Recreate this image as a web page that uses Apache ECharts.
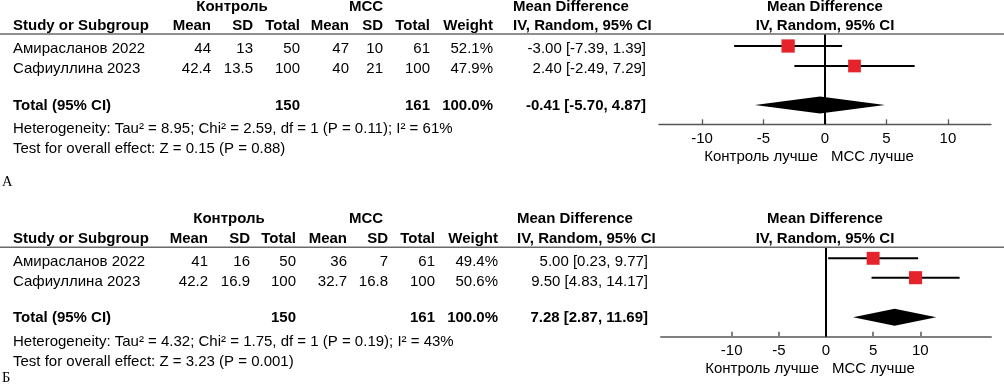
<!DOCTYPE html>
<html>
<head>
<meta charset="utf-8">
<script src="https://cdn.jsdelivr.net/npm/echarts@6/dist/echarts.min.js"></script>
<style>
html,body{margin:0;padding:0;background:#fff;}
#chart{width:1004px;height:392px;}
</style>
</head>
<body>
<div id="chart"></div>
<script>
// ---------------- DATA ----------------
const studies = ['Амирасланов 2022', 'Сафиуллина 2023'];
const groupNames = ['Контроль', 'МСС'];
const tickValues = [-10, -5, 0, 5, 10];
const favourLabels = ['Контроль лучше', 'МСС лучше'];

// Panel А
const aCtrlMean = [44, 42.4];
const aCtrlSD = [13, 13.5];
const aCtrlN = [50, 100];
const aMscMean = [47, 40];
const aMscSD = [10, 21];
const aMscN = [61, 100];
const aWeight = [52.1, 47.9];
const aMD = [-3.00, 2.40];
const aLo = [-7.39, -2.49];
const aHi = [1.39, 7.29];
const aTotal = [-0.41, -5.70, 4.87];
const aTotalN = [150, 161];
const aHet = 'Heterogeneity: Tau² = 8.95; Chi² = 2.59, df = 1 (P = 0.11); I² = 61%';
const aTest = 'Test for overall effect: Z = 0.15 (P = 0.88)';

// Panel Б
const bCtrlMean = [41, 42.2];
const bCtrlSD = [16, 16.9];
const bCtrlN = [50, 100];
const bMscMean = [36, 32.7];
const bMscSD = [7, 16.8];
const bMscN = [61, 100];
const bWeight = [49.4, 50.6];
const bMD = [5.00, 9.50];
const bLo = [0.23, 4.83];
const bHi = [9.77, 14.17];
const bTotal = [7.28, 2.87, 11.69];
const bTotalN = [150, 161];
const bHet = 'Heterogeneity: Tau² = 4.32; Chi² = 1.75, df = 1 (P = 0.19); I² = 43%';
const bTest = 'Test for overall effect: Z = 3.23 (P = 0.001)';

// ---------------- LAYOUT / STYLE ----------------
const FONT = '"Liberation Sans", Arial, sans-serif';
const SERIF = '"Liberation Serif", "Times New Roman", serif';
const RED = '#e4232b';
const FS = 15;

const panels = [
  {
    letter: 'А',
    d: {cm: aCtrlMean, cs: aCtrlSD, cn: aCtrlN, mm: aMscMean, ms: aMscSD, mn: aMscN,
        w: aWeight, md: aMD, lo: aLo, hi: aHi, tot: aTotal, totN: aTotalN, het: aHet, test: aTest},
    lay: {top: 34, axisY: 124.3, xl: 659, xr: 991, xmin: -13.5, xmax: 13.5,
          rowU: [0.6, 1.6], diaU: 3.55, ymax: 4.515,
          h1: 6.5, h2: 26, rows: [49, 69], tot: 106, het: 128.5, test: 148.5, fav: 157, let: 182,
          cols: {study: 13, cm: 211, cs: 253, cn: 300, mm: 349, ms: 383, mn: 430, w: 493, mdH: 513, md: 646, ctrlH: 232, mscH: 366},
          favR: 818, favL: 831, axisW: 1.3, axisC: '#555', labelMargin: 7}
  },
  {
    letter: 'Б',
    d: {cm: bCtrlMean, cs: bCtrlSD, cn: bCtrlN, mm: bMscMean, ms: bMscSD, mn: bMscN,
        w: bWeight, md: bMD, lo: bLo, hi: bHi, tot: bTotal, totN: bTotalN, het: bHet, test: bTest},
    lay: {top: 247.3, axisY: 336.7, xl: 661, xr: 991, xmin: -17.5, xmax: 17.5,
          rowU: [0.55, 1.52], diaU: 3.5, ymax: 4.47,
          h1: 219, h2: 238.5, rows: [261.5, 281.5], tot: 318, het: 342, test: 361.5, fav: 368.5, let: 378,
          cols: {study: 13, cm: 208, cs: 250, cn: 296, mm: 347, ms: 388, mn: 435, w: 498, mdH: 517, md: 648, ctrlH: 229, mscH: 366},
          favR: 819, favL: 832, axisW: 2, axisC: '#808080', labelMargin: 6.5}
  }
];

function T(text, x, y, align, bold, size, family) {
  return {
    type: 'text', x: x, y: y, silent: true, z: 10,
    style: {
      text: String(text), fill: '#000',
      fontSize: size || FS, fontWeight: bold ? 'bold' : 'normal',
      fontFamily: family || FONT,
      align: align || 'left', verticalAlign: 'middle'
    }
  };
}

const graphics = [];
const grids = [], xAxes = [], yAxes = [], series = [];
const PLOT_CX = 825;

panels.forEach((p, gi) => {
  const L = p.lay, C = L.cols, d = p.d;
  // header rows
  graphics.push(T(groupNames[0], C.ctrlH, L.h1, 'center', true));
  graphics.push(T(groupNames[1], C.mscH, L.h1, 'center', true));
  graphics.push(T('Mean Difference', C.mdH, L.h1, 'left', true));
  graphics.push(T('Mean Difference', PLOT_CX, L.h1, 'center', true));
  graphics.push(T('Study or Subgroup', C.study, L.h2, 'left', true));
  graphics.push(T('Mean', C.cm, L.h2, 'right', true));
  graphics.push(T('SD', C.cs, L.h2, 'right', true));
  graphics.push(T('Total', C.cn, L.h2, 'right', true));
  graphics.push(T('Mean', C.mm, L.h2, 'right', true));
  graphics.push(T('SD', C.ms, L.h2, 'right', true));
  graphics.push(T('Total', C.mn, L.h2, 'right', true));
  graphics.push(T('Weight', C.w, L.h2, 'right', true));
  graphics.push(T('IV, Random, 95% CI', C.mdH, L.h2, 'left', true));
  graphics.push(T('IV, Random, 95% CI', PLOT_CX, L.h2, 'center', true));
  // header rule
  graphics.push({type: 'line', silent: true, z: 5,
    shape: {x1: 0, y1: L.top, x2: 1004, y2: L.top},
    style: {stroke: '#6a6a6a', lineWidth: 1.6}});
  // study rows
  studies.forEach((s, i) => {
    const y = L.rows[i];
    graphics.push(T(s, C.study, y, 'left'));
    graphics.push(T(d.cm[i], C.cm, y, 'right'));
    graphics.push(T(d.cs[i], C.cs, y, 'right'));
    graphics.push(T(d.cn[i], C.cn, y, 'right'));
    graphics.push(T(d.mm[i], C.mm, y, 'right'));
    graphics.push(T(d.ms[i], C.ms, y, 'right'));
    graphics.push(T(d.mn[i], C.mn, y, 'right'));
    graphics.push(T(d.w[i].toFixed(1) + '%', C.w, y, 'right'));
    graphics.push(T(d.md[i].toFixed(2) + ' [' + d.lo[i].toFixed(2) + ', ' + d.hi[i].toFixed(2) + ']', C.md, y, 'right'));
  });
  // total row
  const wsum = d.w.reduce((a, b) => a + b, 0);
  graphics.push(T('Total (95% CI)', C.study, L.tot, 'left', true));
  graphics.push(T(d.totN[0], C.cn, L.tot, 'right', true));
  graphics.push(T(d.totN[1], C.mn, L.tot, 'right', true));
  graphics.push(T(wsum.toFixed(1) + '%', C.w, L.tot, 'right', true));
  graphics.push(T(d.tot[0].toFixed(2) + ' [' + d.tot[1].toFixed(2) + ', ' + d.tot[2].toFixed(2) + ']', C.md, L.tot, 'right', true));
  graphics.push(T(d.het, C.study, L.het, 'left'));
  graphics.push(T(d.test, C.study, L.test, 'left'));
  graphics.push(T(favourLabels[0], L.favR, L.fav, 'right'));
  graphics.push(T(favourLabels[1], L.favL, L.fav, 'left'));
  graphics.push(T(p.letter, 2, L.let, 'left', false, 14.5, SERIF));

  // plot grid
  grids.push({left: L.xl, right: 1004 - L.xr, top: L.top, height: L.axisY - L.top,
    containLabel: false, outerBoundsMode: 'none', show: false});
  xAxes.push({
    type: 'value', gridIndex: gi, min: L.xmin, max: L.xmax, position: 'bottom',
    splitLine: {show: false},
    axisLine: {show: true, onZero: false, lineStyle: {color: L.axisC, width: L.axisW}},
    axisTick: {show: true, inside: true, length: 5, customValues: tickValues,
      lineStyle: {color: L.axisC, width: L.axisW}},
    axisLabel: {show: true, customValues: tickValues, color: '#000', fontSize: FS,
      fontFamily: FONT, margin: L.labelMargin, formatter: v => String(v)}
  });
  yAxes.push({type: 'value', gridIndex: gi, min: 0, max: L.ymax, inverse: true, show: false});

  // zero line
  series.push({
    type: 'custom', xAxisIndex: gi, yAxisIndex: gi, z: 2, clip: false, silent: true,
    data: [[0, 0, L.ymax]],
    renderItem: (params, api) => {
      const a = api.coord([api.value(0), api.value(1)]);
      const b = api.coord([api.value(0), api.value(2)]);
      return {type: 'line', shape: {x1: a[0], y1: a[1], x2: b[0], y2: b[1]},
        style: {stroke: '#000', lineWidth: 2}};
    }
  });
  // studies
  series.push({
    type: 'custom', xAxisIndex: gi, yAxisIndex: gi, z: 3, clip: false, silent: true,
    data: d.md.map((m, i) => [m, d.lo[i], d.hi[i], L.rowU[i], d.w[i]]),
    renderItem: (params, api) => {
      const y = api.value(3);
      const a = api.coord([api.value(1), y]);
      const b = api.coord([api.value(2), y]);
      const c = api.coord([api.value(0), y]);
      const s = 13 * Math.sqrt(api.value(4) / 50);
      return {type: 'group', children: [
        {type: 'line', shape: {x1: a[0], y1: a[1], x2: b[0], y2: b[1]}, style: {stroke: '#000', lineWidth: 2}},
        {type: 'rect', shape: {x: c[0] - s / 2, y: c[1] - s / 2, width: s, height: s}, style: {fill: RED}}
      ]};
    }
  });
  // pooled diamond
  series.push({
    type: 'custom', xAxisIndex: gi, yAxisIndex: gi, z: 3, clip: false, silent: true,
    data: [[d.tot[0], d.tot[1], d.tot[2], L.diaU]],
    renderItem: (params, api) => {
      const y = api.value(3);
      const c = api.coord([api.value(0), y]);
      const l = api.coord([api.value(1), y]);
      const r = api.coord([api.value(2), y]);
      const h = 8.5;
      return {type: 'polygon', shape: {points: [[l[0], l[1]], [c[0], c[1] - h], [r[0], r[1]], [c[0], c[1] + h]]},
        style: {fill: '#000'}};
    }
  });
});

const chart = echarts.init(document.getElementById('chart'), null, {renderer: 'canvas'});
chart.setOption({
  animation: false,
  backgroundColor: '#fff',
  grid: grids,
  xAxis: xAxes,
  yAxis: yAxes,
  series: series,
  graphic: graphics
});
</script>
</body>
</html>
